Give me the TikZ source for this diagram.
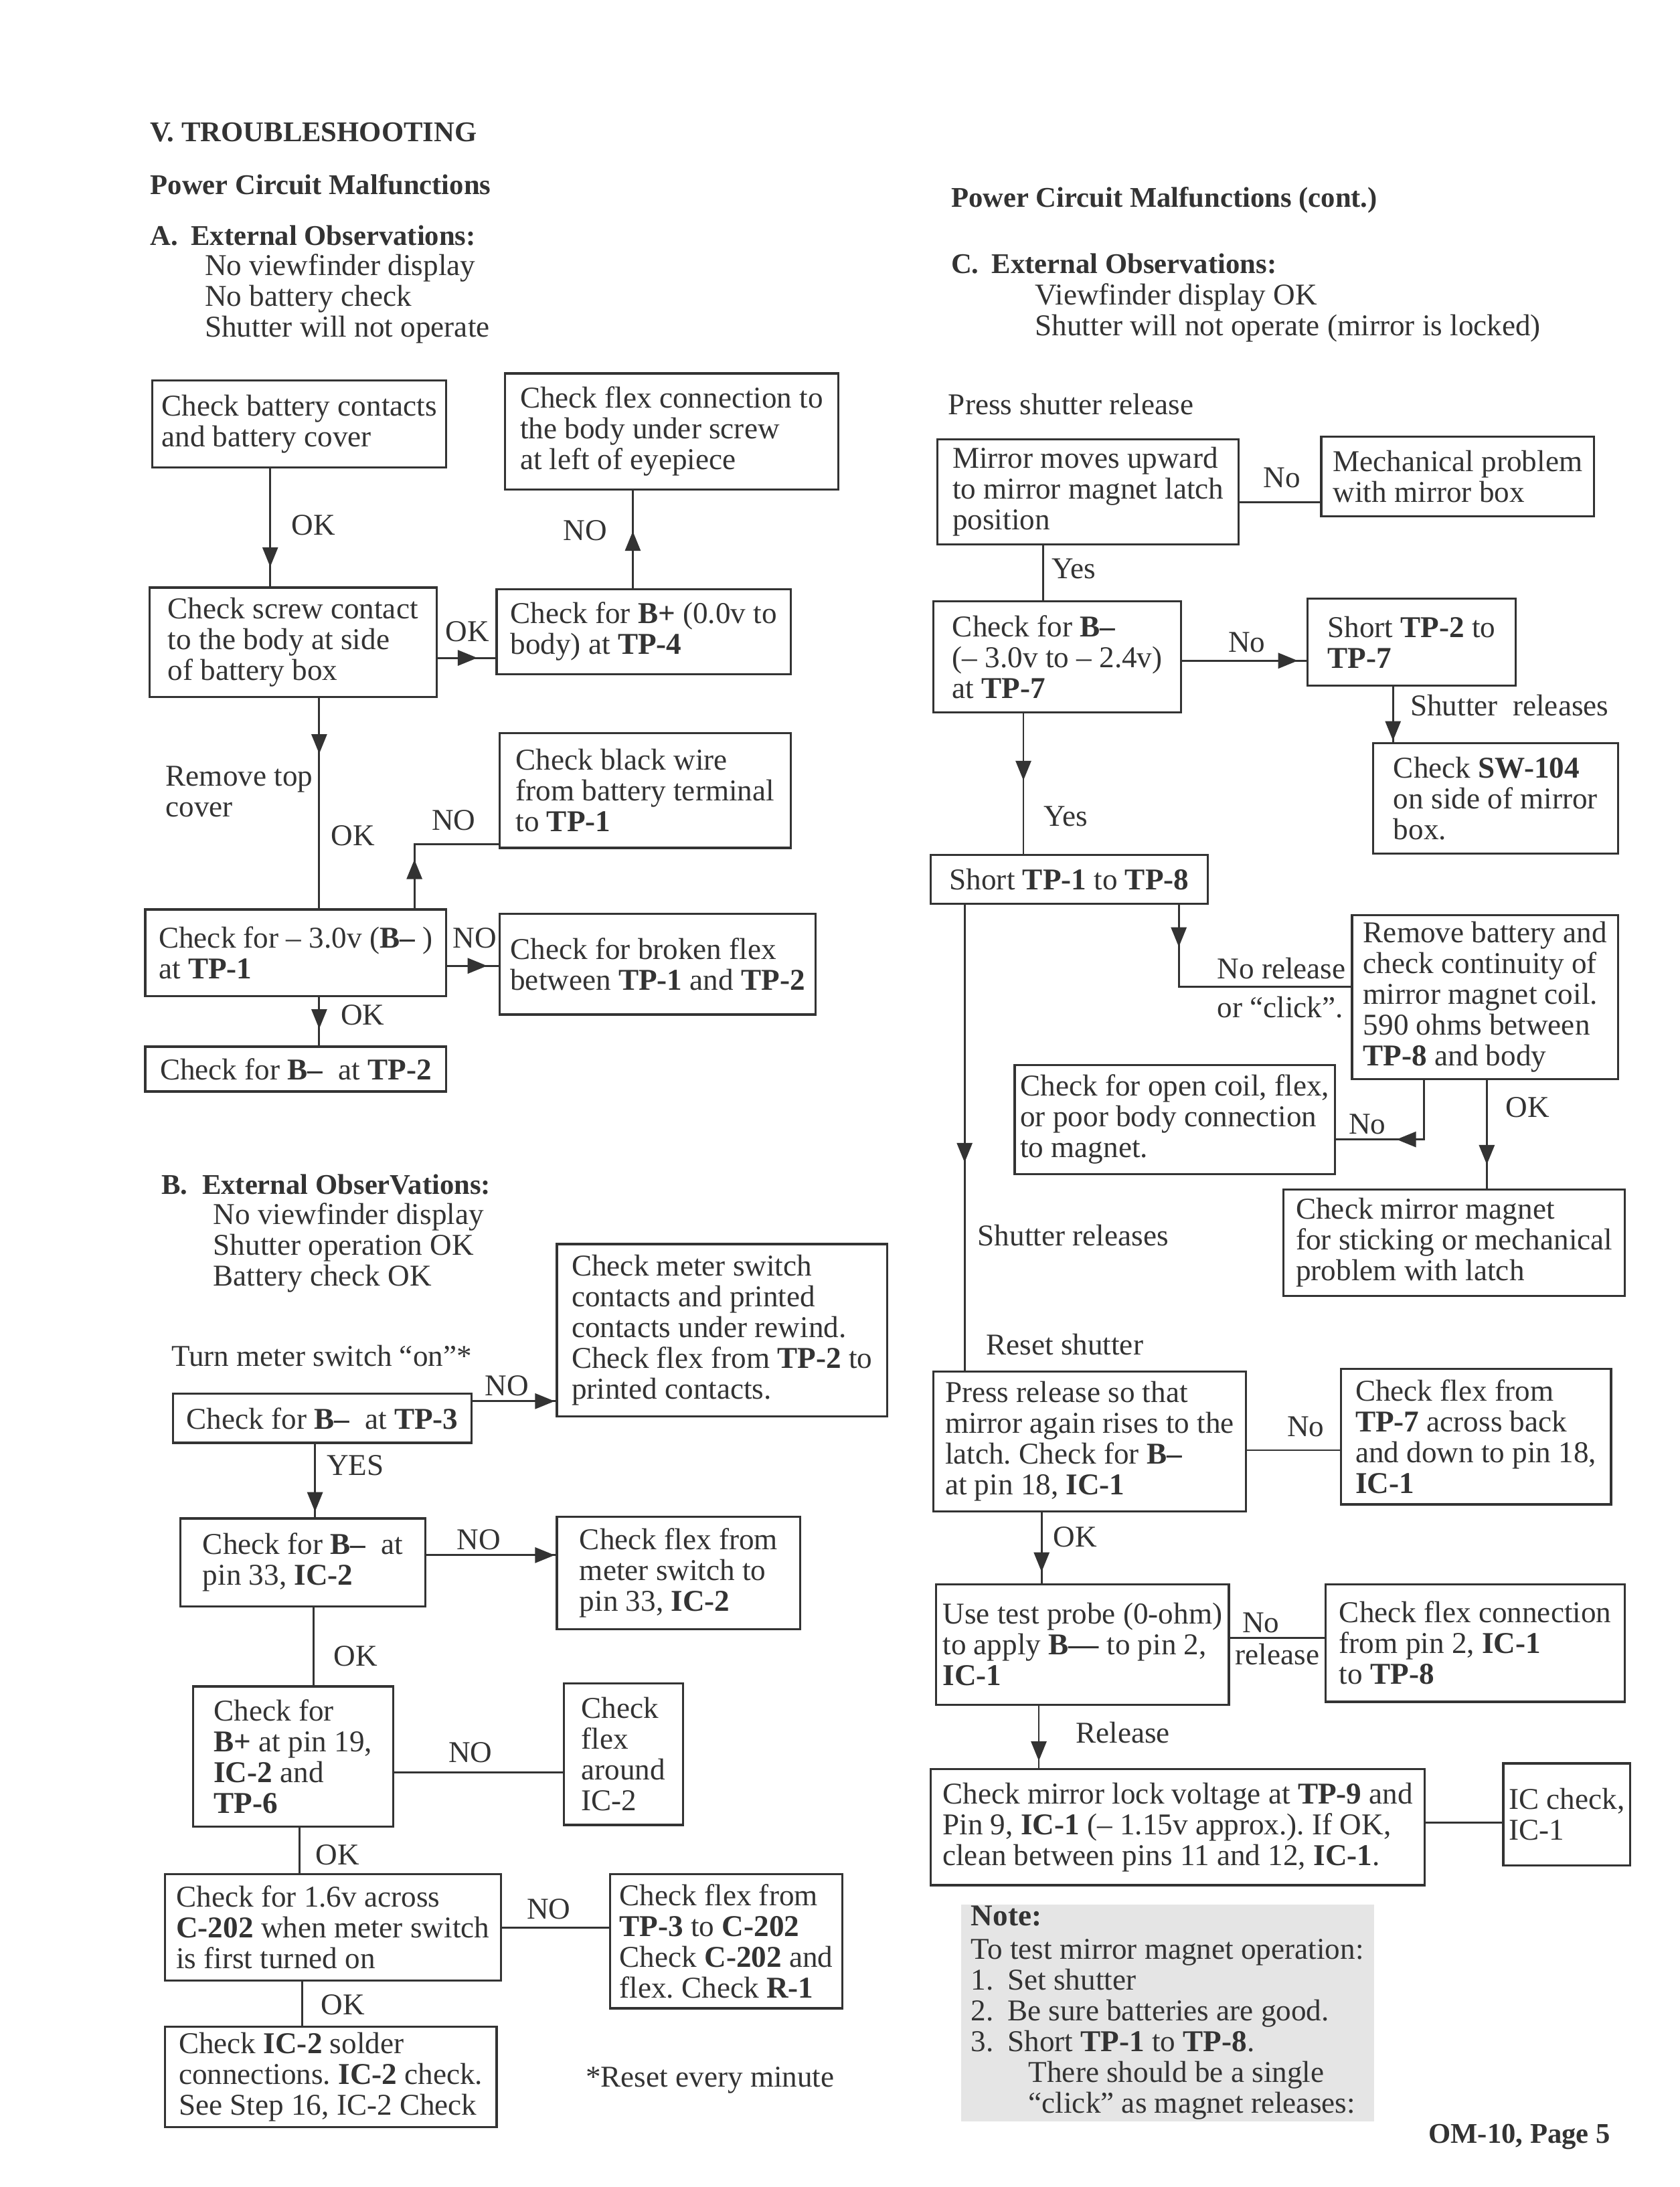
\documentclass[tikz,border=0pt]{standalone}
\usepackage{fontspec}
\setmainfont{Liberation Serif}
\usetikzlibrary{arrows.meta,decorations.markings}
\definecolor{ink}{gray}{0.2}
\frenchspacing

\tikzset{
  chk/.style 2 args={draw, line width=0.75pt, anchor=north west, align=left,
    inner sep=2pt, minimum width=#1, minimum height=#2},
  lbl/.style={anchor=west, inner sep=0pt, text height=7.3pt, text depth=2.2pt},
  blk/.style={anchor=north west, align=left, inner sep=0pt},
  hd/.style={lbl, font=\fontsize{10.2}{11}\selectfont\bfseries},
  wire/.style={draw, line width=0.7pt},
  tipat/.style={postaction={decorate}, decoration={markings,
    mark=at position #1 with {\arrow{Triangle[length=7pt,width=5.5pt]}}}},
}

\begin{document}
\begin{tikzpicture}[x=0.5pt, y=-0.5pt, color=ink, font=\fontsize{10.8}{11}\selectfont]
\useasboundingbox (0,0) rectangle (1200,1562.4);

% headings, left column
\node[hd] (title) at (107,96) {V. TROUBLESHOOTING};
\node[hd] (pcm) at (107,134) {Power Circuit Malfunctions};
\node[hd] (obsa) at (107,170) {\makebox[14.5pt][l]{A.}External Observations:};
\node[blk] (lista) at (146,181) {No viewfinder display\\No battery check\\Shutter will not operate};

% part A
\node[chk={105pt}{31pt}] (a1) at (108,271) {Check battery contacts\\and battery cover};
\node[chk={119pt}{41.5pt}] (a2) at (360,266) {Check flex connection to\\the body under screw\\at left of eyepiece};
\node[chk={102.5pt}{39pt}] (a3) at (106,419) {Check screw contact\\to the body at side\\of battery box};
\node[chk={105pt}{30.5pt}] (a4) at (354,420) {Check for \textbf{B+} (0.0v to\\body) at \textbf{TP-4}};
\node[chk={104pt}{41pt}] (a6) at (356,523) {Check black wire\\from battery terminal\\to \textbf{TP-1}};
\node[chk={107.5pt}{31pt}] (a5) at (103,649) {Check for – 3.0v (\textbf{B–} )\\at \textbf{TP-1}};
\node[chk={113pt}{36pt}] (a7) at (356,652) {Check for broken flex\\between \textbf{TP-1} and \textbf{TP-2}};
\node[chk={107.5pt}{16pt}] (a8) at (103,747) {Check for \textbf{B–}\ \ at \textbf{TP-2}};

\draw[wire, tipat=-7pt] (a1.south -| 193,0) -- (a3.north -| 193,0);
\draw[wire, tipat=-6.5pt] (a3.east |- 0,470) -- (a4.west |- 0,470);
\draw[wire, tipat=-14.5pt] (a4.north -| 452,0) -- (a2.south -| 452,0);
\draw[wire, tipat=20pt] (a3.south -| 228,0) -- (a5.north -| 228,0);
\draw[wire, tipat=17.5pt] (a5.north -| 296,0) |- (a6.west |- 0,603);
\draw[wire, tipat=-4pt] (a5.east |- 0,690) -- (a7.west |- 0,690);
\draw[wire, tipat=-6pt] (a5.south -| 228,0) -- (a8.north -| 228,0);

\node[lbl] (oka1) at (208,377) {OK};
\node[lbl] (oka3) at (318,453) {OK};
\node[lbl] (noa4) at (402,381) {NO};
\node[blk] (remove) at (118,547) {Remove top\\cover};
\node[lbl] (oka5) at (236,599) {OK};
\node[lbl] (noa6) at (308,588) {NO};
\node[lbl] (noa7) at (323,672) {NO};
\node[lbl] (oka8) at (243,727) {OK};

% part B
\node[hd] (obsb) at (115,848) {\makebox[14.5pt][l]{B.}External ObserVations:};
\node[blk] (listb) at (152,859) {No viewfinder display\\Shutter operation OK\\Battery check OK};
\node[lbl] (turn) at (122,971) {Turn meter switch “on”*};

\node[chk={106.5pt}{17.5pt}] (b1) at (123,995) {Check for \textbf{B–}\ \ at \textbf{TP-3}};
\node[chk={118pt}{61.5pt}] (b2) at (397,888) {Check meter switch\\contacts and printed\\contacts under rewind.\\Check flex from \textbf{TP-2} to\\printed contacts.};
\node[chk={87.5pt}{31.5pt}] (b3) at (128,1084) {Check for \textbf{B–}\ \ at\\pin 33, \textbf{IC-2}};
\node[chk={87pt}{40pt}] (b4) at (397,1083) {Check flex from\\meter switch to\\pin 33, \textbf{IC-2}};
\node[chk={71.5pt}{50pt}] (b5) at (137,1204) {Check for\\\textbf{B+} at pin 19,\\\textbf{IC-2} and\\\textbf{TP-6}};
\node[chk={42.5pt}{50.5pt}] (b6) at (402,1202) {Check\\flex\\around\\IC-2};
\node[chk={120pt}{38pt}] (b7) at (117,1338) {Check for 1.6v across\\\textbf{C-202} when meter switch\\is first turned on};
\node[chk={83pt}{48pt}] (b8) at (435,1338) {Check flex from\\\textbf{TP-3} to \textbf{C-202}\\Check \textbf{C-202} and\\flex. Check \textbf{R-1}};
\node[chk={118.5pt}{36pt}] (b9) at (117,1447) {Check \textbf{IC-2} solder\\connections. \textbf{IC-2} check.\\See Step 16, IC-2 Check};

\draw[wire, tipat=-0.4pt] (b1.east |- 0,1001) -- (b2.west |- 0,1001);
\draw[wire, tipat=-2pt] (b1.south -| 225,0) -- (b3.north -| 225,0);
\draw[wire, tipat=-0.4pt] (b3.east |- 0,1111) -- (b4.west |- 0,1111);
\draw[wire] (b3.south -| 224,0) -- (b5.north -| 224,0);
\draw[wire] (b5.east |- 0,1266) -- (b6.west |- 0,1266);
\draw[wire] (b5.south -| 214,0) -- (b7.north -| 214,0);
\draw[wire] (b7.east |- 0,1377) -- (b8.west |- 0,1377);
\draw[wire] (b7.south -| 216,0) -- (b9.north -| 216,0);

\node[lbl] (nob2) at (346,992) {NO};
\node[lbl] (yesb3) at (233,1049) {YES};
\node[lbl] (nob4) at (326,1102) {NO};
\node[lbl] (okb5) at (238,1185) {OK};
\node[lbl] (nob6) at (320,1254) {NO};
\node[lbl] (okb7) at (225,1327) {OK};
\node[lbl] (nob8) at (376,1366) {NO};
\node[lbl] (okb9) at (229,1434) {OK};
\node[lbl] (reset) at (418,1486) {*Reset every minute};

% part C, right column
\node[hd] (pcmc) at (679,143) {Power Circuit Malfunctions (cont.)};
\node[hd] (obsc) at (679,190) {\makebox[14.5pt][l]{C.}External Observations:};
\node[blk] (listc) at (739,202) {Viewfinder display OK\\Shutter will not operate (mirror is locked)};
\node[lbl] (press) at (677,291) {Press shutter release};

\node[chk={107.5pt}{37.5pt}] (c1) at (669,313) {Mirror moves upward\\to mirror magnet latch\\position};
\node[chk={97.5pt}{28.5pt}] (c2) at (943,311) {Mechanical problem\\with mirror box};
\node[chk={88.5pt}{39.5pt}] (c3) at (666,429) {Check for \textbf{B–}\\(– 3.0v to – 2.4v)\\at \textbf{TP-7}};
\node[chk={74.5pt}{31pt}] (c4) at (933,427) {Short \textbf{TP-2} to\\\textbf{TP-7}};
\node[chk={87.5pt}{39.5pt}] (c5) at (980,530) {Check \textbf{SW-104}\\on side of mirror\\box.};
\node[chk={99pt}{17.5pt}] (c6) at (664,610) {Short \textbf{TP-1} to \textbf{TP-8}};
\node[chk={95pt}{58.5pt}] (c7) at (965,653) {Remove battery and\\check continuity of\\mirror magnet coil.\\590 ohms between\\\textbf{TP-8} and body};
\node[chk={113.5pt}{39pt}] (c8) at (724,760) {Check for open coil, flex,\\or poor body connection\\to magnet.};
\node[chk={122pt}{38pt}] (c9) at (916,849) {Check mirror magnet\\for sticking or mechanical\\problem with latch};
\node[chk={111.5pt}{50pt}] (c10) at (666,979) {Press release so that\\mirror again rises to the\\latch. Check for \textbf{B–}\\at pin 18, \textbf{IC-1}};
\node[chk={96.5pt}{48.5pt}] (c11) at (957,977) {Check flex from\\\textbf{TP-7} across back\\and down to pin 18,\\\textbf{IC-1}};
\node[chk={104.5pt}{43pt}] (c12) at (668,1131) {Use test probe (0-ohm)\\to apply \textbf{B—} to pin 2,\\\textbf{IC-1}};
\node[chk={107pt}{42pt}] (c13) at (946,1131) {Check flex connection\\from pin 2, \textbf{IC-1}\\to \textbf{TP-8}};
\node[chk={176.5pt}{41.5pt}] (c14) at (664,1263) {Check mirror lock voltage at \textbf{TP-9} and\\Pin 9, \textbf{IC-1} (– 1.15v approx.). If OK,\\clean between pins 11 and 12, \textbf{IC-1}.};
\node[chk={45pt}{36.5pt}] (c15) at (1073,1259) {IC check,\\IC-1};

\draw[wire] (c1.east |- 0,359) -- (c2.west |- 0,359);
\draw[wire] (c1.south -| 745,0) -- (c3.north -| 745,0);
\draw[wire, tipat=-3pt] (c3.east |- 0,472) -- (c4.west |- 0,472);
\draw[wire, tipat=-0.4pt] (c4.south -| 995,0) -- (c5.north -| 995,0);
\draw[wire, tipat=24pt] (c3.south -| 731,0) -- (c6.north -| 731,0);
\draw[wire, tipat=15pt] (c6.south -| 842,0) |- (c7.west |- 0,705);
\draw[wire, tipat=31pt] (c7.south -| 1017,0) |- (c8.east |- 0,814);
\draw[wire, tipat=-8.5pt] (c7.south -| 1062,0) -- (c9.north -| 1062,0);
\draw[wire, tipat=92pt] (c6.south -| 689,0) -- (c10.north -| 689,0);
\draw[wire] (c10.east |- 0,1036) -- (c11.west |- 0,1036);
\draw[wire, tipat=-4pt] (c10.south -| 744,0) -- (c12.north -| 744,0);
\draw[wire] (c12.east |- 0,1170) -- (c13.west |- 0,1170);
\draw[wire, tipat=-2.5pt] (c12.south -| 742,0) -- (c14.north -| 742,0);
\draw[wire] (c14.east |- 0,1302) -- (c15.west |- 0,1302);

\node[lbl] (noc2) at (902,343) {No};
\node[lbl] (yesc3) at (751,408) {Yes};
\node[lbl] (noc4) at (877,461) {No};
\node[lbl] (relc5) at (1007,506) {Shutter\ \ releases};
\node[lbl] (yesc6) at (745,585) {Yes};
\node[lbl] (norel) at (869,694) {No release};
\node[lbl] (click) at (869,722) {or “click”.};
\node[lbl] (noc8) at (963,805) {No};
\node[lbl] (okc9) at (1075,793) {OK};
\node[lbl] (relc10) at (698,885) {Shutter releases};
\node[lbl] (resetc) at (704,963) {Reset shutter};
\node[lbl] (noc11) at (919,1021) {No};
\node[lbl] (okc12) at (752,1100) {OK};
\node[lbl] (noc13) at (887,1161) {No};
\node[lbl] (relc13) at (882,1184) {release};
\node[lbl] (relc14) at (768,1240) {Release};

% note
\node[anchor=north west, fill=black!10, inner sep=0pt, minimum width=147.5pt,
  minimum height=77.5pt, align=left] (note) at (686,1360)
  {\textbf{Note:}\\[1pt]
   To test mirror magnet operation:\\
   \makebox[13pt][l]{1.}Set shutter\\
   \makebox[13pt][l]{2.}Be sure batteries are good.\\
   \makebox[13pt][l]{3.}Short \textbf{TP-1} to \textbf{TP-8}.\\
   \hspace*{20.5pt}There should be a single\\
   \hspace*{20.5pt}“click” as magnet releases:};

\node[hd] (page) at (1020,1526) {OM-10, Page 5};
\end{tikzpicture}
\end{document}
